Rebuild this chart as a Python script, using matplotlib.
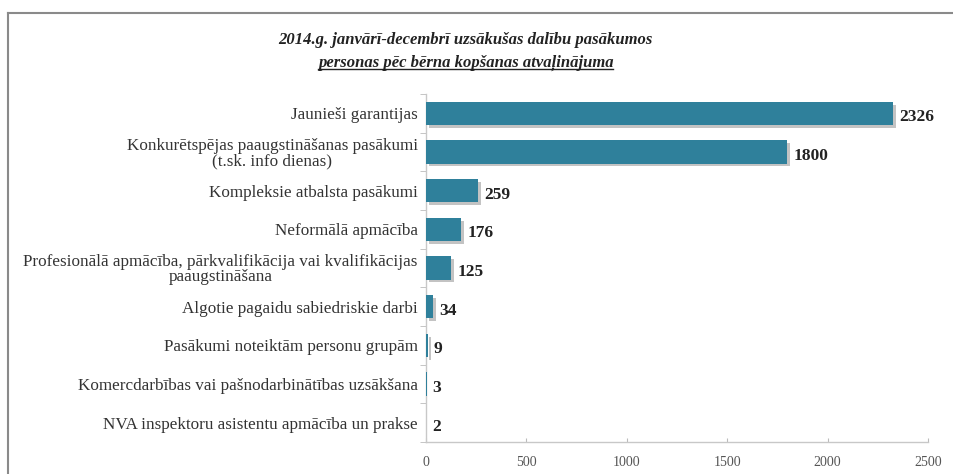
import matplotlib.pyplot as plt
import matplotlib.patheffects as pe
from matplotlib.lines import Line2D

# data
categories = [
    'Jaunieši garantijas',
    'Konkurētspējas paaugstināšanas pasākumi\n(t.sk. info dienas)',
    'Kompleksie atbalsta pasākumi',
    'Neformālā apmācība',
    'Profesionālā apmācība, pārkvalifikācija vai kvalifikācijas\npaaugstināšana',
    'Algotie pagaidu sabiedriskie darbi',
    'Pasākumi noteiktām personu grupām',
    'Komercdarbības vai pašnodarbinātības uzsākšana',
    'NVA inspektoru asistentu apmācība un prakse',
]
values = [2326, 1800, 259, 176, 125, 34, 9, 3, 2]
x_ticks = [0, 500, 1000, 1500, 2000, 2500]

plt.rcParams['font.family'] = ['Liberation Serif', 'DejaVu Serif']

fig = plt.figure(figsize=(9.54, 4.74), dpi=100)
ax = fig.add_axes([0.4465, 0.0675, 0.5262, 0.7342])

pos = list(range(len(categories)))
bars = ax.barh(pos, values, height=0.6, color='#2F809B', zorder=3)
for b in bars:
    b.set_path_effects([
        pe.SimplePatchShadow(offset=(2, -2), shadow_rgbFace='#888888', alpha=0.5),
        pe.Normal(),
    ])

for p, v in zip(pos, values):
    ax.text(v + 30, p + 0.1, str(v), va='center', ha='left',
            fontsize=12.5, fontweight='bold', color='#222222')

ax.set_ylim(len(categories) - 0.5, -0.5)
ax.set_xlim(0, 2500)
ax.set_xticks(x_ticks)
ax.set_xticklabels([str(t) for t in x_ticks], fontsize=10, color='#555555')
ax.set_yticks(pos)
ax.set_yticklabels(categories, fontsize=12.3, color='#333333',
                   multialignment='center', linespacing=0.95)
ax.set_yticks([p + 0.5 for p in range(-1, len(categories))], minor=True)
ax.tick_params(axis='y', which='major', length=0, pad=6)
ax.tick_params(axis='y', which='minor', length=4, color='#bbbbbb', direction='out')
ax.tick_params(axis='x', length=3, color='#bbbbbb', direction='in', pad=10)

for s in ['top', 'right']:
    ax.spines[s].set_visible(False)
for s in ['left', 'bottom']:
    ax.spines[s].set_color('#c8c8c8')
    ax.spines[s].set_linewidth(1)

fig.text(0.488, 0.915, '2014.g. janvārī-decembrī uzsākušas dalību pasākumos',
         ha='center', va='center', fontsize=12, fontweight='bold', style='italic',
         color='#222222')
t2 = fig.text(0.488, 0.868, 'personas pēc bērna kopšanas atvaļinājuma',
              ha='center', va='center', fontsize=12, fontweight='bold', style='italic',
              color='#222222')

# underline for the second title line
fig.canvas.draw()
bb = t2.get_window_extent().transformed(fig.transFigure.inverted())
fig.add_artist(Line2D([bb.x0, bb.x1], [bb.y0 + 0.004, bb.y0 + 0.004],
                      transform=fig.transFigure, color='#222222', lw=1))

# outer chart frame (runs off the right and bottom edges)
fig.add_artist(Line2D([8 / 954, 8 / 954], [0, 1 - 13 / 474],
                      transform=fig.transFigure, color='#8a8a8a', lw=1.5))
fig.add_artist(Line2D([8 / 954, 1], [1 - 13 / 474, 1 - 13 / 474],
                      transform=fig.transFigure, color='#8a8a8a', lw=1.5))

fig.savefig('out.png', dpi=100)
